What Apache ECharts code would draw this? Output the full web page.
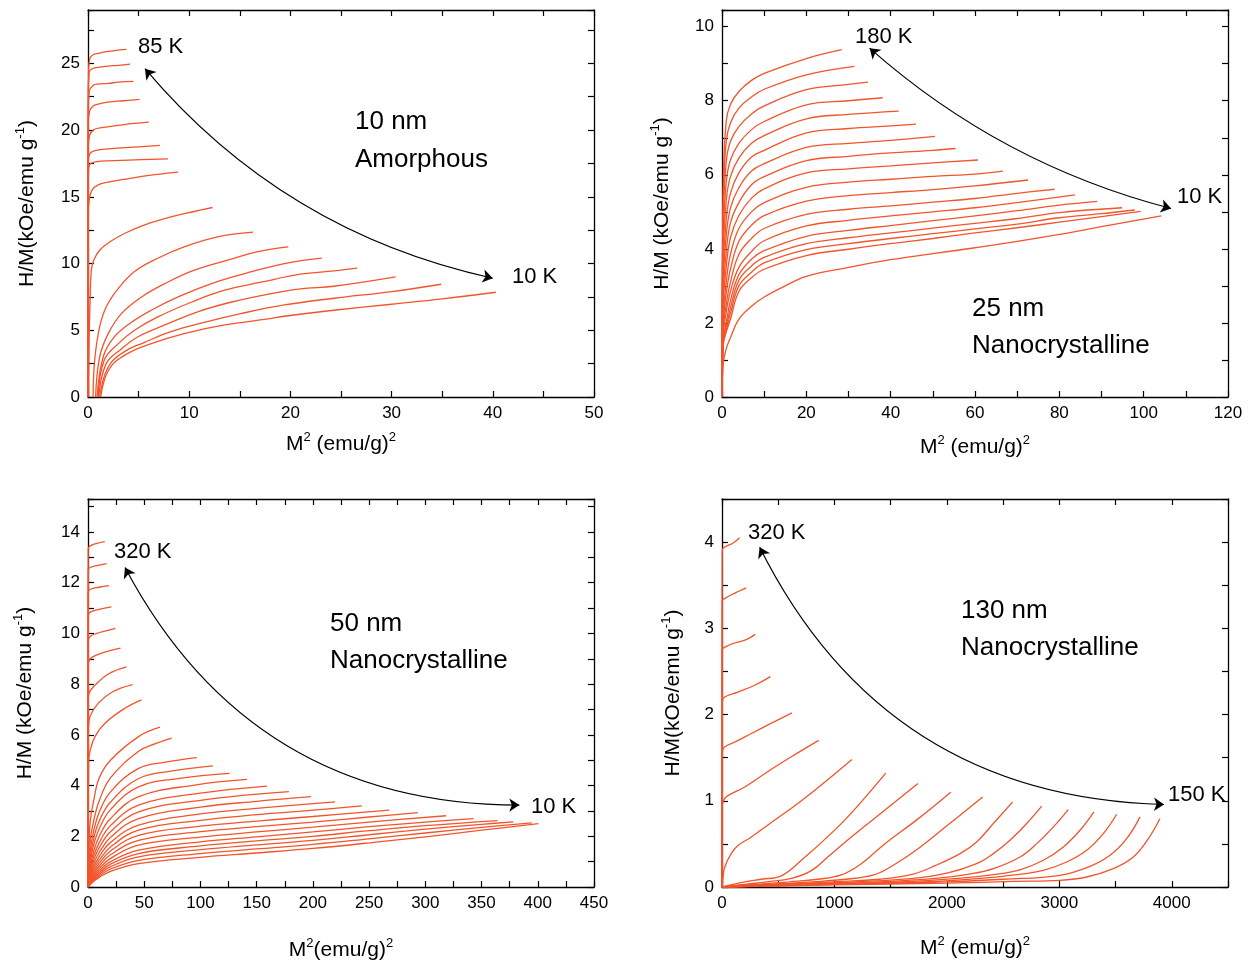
<!DOCTYPE html>
<html>
<head>
<meta charset="utf-8">
<script src="https://cdn.jsdelivr.net/npm/echarts@6/dist/echarts.min.js"></script>
<style>html,body{margin:0;padding:0;background:#fff}#c{width:1255px;height:962px}</style>
</head>
<body>
<div id="c"></div>
<script>
// ---------------- DATA ----------------
// Panel 1: 10 nm amorphous, 85 K (top) ... 10 K (bottom); points are [M^2, H/M]
const amorphous10 = [
  [[0,0],[0.02,20],[0.06,24.6],[0.2,25.4],[0.5,25.65],[1,25.75],[2,25.9],[3,26.0],[3.8,26.05]],
  [[0,0],[0.03,22.5],[0.1,24.3],[0.4,24.6],[1,24.7],[2,24.8],[3,24.85],[4.15,24.95]],
  [[0,0],[0.03,21.5],[0.12,22.9],[0.5,23.35],[1,23.45],[2,23.5],[3,23.6],[4.5,23.65]],
  [[0,0],[0.03,20.5],[0.15,21.4],[0.5,21.8],[1,21.95],[2,22.1],[3.5,22.2],[5.1,22.3]],
  [[0,0],[0.03,18.8],[0.15,19.6],[0.6,20.05],[1.5,20.2],[3,20.35],[4.5,20.5],[6,20.6]],
  [[0,0],[0.03,17.6],[0.15,18.2],[0.6,18.45],[2,18.6],[4,18.7],[7.1,18.85]],
  [[0,0],[0.03,16.8],[0.15,17.4],[0.6,17.6],[2,17.7],[4,17.75],[7.9,17.85]],
  [[0,0],[0.03,13.5],[0.12,14.8],[0.4,15.5],[1,15.9],[2,16.1],[3.5,16.3],[6,16.6],[8.9,16.85]],
  [[0.05,0],[0.1,4],[0.2,7],[0.33,9.5],[0.6,10.3],[1.15,11],[2.1,11.6],[3.6,12.25],[5.6,12.9],[8.2,13.5],[10.5,13.9],[12.3,14.2]],
  [[0.5,0],[0.66,2.75],[1.15,5.25],[1.8,6.75],[2.96,8.1],[4.6,9.4],[6.9,10.4],[9.5,11.25],[12.8,12],[16.3,12.35]],
  [[0.75,0],[1.15,3],[2,4.75],[3.3,6.25],[5.3,7.5],[7.6,8.5],[10.5,9.5],[13.8,10.25],[16.8,10.9],[19.8,11.25]],
  [[0.9,0],[1.5,3],[2.6,4.5],[4.3,5.6],[6.25,6.5],[8.9,7.5],[12.2,8.5],[15.5,9.25],[19.4,10],[23.1,10.4]],
  [[1.0,0],[1.6,2.75],[3,4],[4.6,5],[6.9,6],[10.2,7.1],[13.5,8],[17.1,8.6],[21,9.2],[24.3,9.45],[26.6,9.65]],
  [[1.05,0],[1.8,2.5],[3.3,3.6],[4.9,4.5],[7.6,5.4],[10.9,6.4],[14.1,7.1],[18.1,7.75],[21,8.1],[24.3,8.3],[30.4,9.0]],
  [[1.15,0],[2,2.25],[3.6,3.4],[5.6,4.1],[8.2,4.9],[11.5,5.6],[15.1,6.25],[19.4,6.9],[24.3,7.4],[30,7.9],[34.9,8.45]],
  [[1.25,0],[2.1,2.1],[3.9,3.25],[6.25,4],[9.5,4.75],[13.5,5.4],[17.8,5.85],[19.4,6.05],[24.3,6.5],[30,6.95],[35,7.35],[40.3,7.85]]
];
// Panel 2: 25 nm nanocrystalline, 180 K ... 10 K
const nano25 = [
  [[0,0],[0.3,5.8],[1,7.45],[2,7.9],[4,8.25],[7,8.55],[10,8.74],[20,9.14],[28.4,9.38]],
  [[0,0],[0.3,5.3],[1,6.9],[2,7.4],[4,7.8],[7,8.1],[10,8.31],[20,8.7],[31.4,8.93]],
  [[0,0],[0.3,4.8],[1,6.35],[2,6.9],[4,7.3],[7,7.64],[10,7.86],[20,8.3],[30,8.44],[34.6,8.5]],
  [[0,0],[0.3,4.3],[1,5.8],[2,6.4],[4,6.85],[7,7.22],[10,7.44],[20,7.89],[30,8.0],[38.1,8.08]],
  [[0,0],[0.3,3.9],[1,5.3],[2,5.95],[4,6.45],[7,6.85],[10,7.06],[20,7.51],[30,7.63],[41.9,7.72]],
  [[0,0],[0.3,3.5],[1,4.8],[2,5.5],[4,6.05],[7,6.48],[10,6.66],[20,7.13],[30,7.25],[40,7.32],[46,7.37]],
  [[0,0],[0.3,3.1],[1,4.35],[2,5.1],[4,5.65],[7,6.1],[10,6.3],[20,6.74],[30,6.85],[40,6.93],[50.5,7.04]],
  [[0,0],[0.3,2.8],[1,3.9],[2,4.7],[4,5.25],[7,5.73],[10,5.95],[20,6.38],[30,6.5],[40,6.59],[50,6.66],[55.4,6.71]],
  [[0,0],[0.3,2.5],[1,3.5],[2,4.3],[4,4.9],[7,5.37],[10,5.62],[20,6.05],[30,6.16],[40,6.24],[50,6.32],[60.7,6.4]],
  [[0,0],[0.3,2.2],[1,3.1],[2,3.85],[4,4.55],[7,5.0],[10,5.25],[20,5.66],[30,5.8],[40,5.88],[50,5.96],[60,6.02],[66.6,6.1]],
  [[0,0],[0.3,2.0],[1,2.8],[2,3.45],[4,4.2],[7,4.64],[10,4.9],[20,5.29],[30,5.44],[40,5.52],[50,5.6],[60,5.7],[72.6,5.86]],
  [[0,0],[0.3,1.8],[1,2.5],[2,3.1],[4,3.85],[7,4.28],[10,4.55],[20,4.93],[30,5.07],[40,5.16],[50,5.26],[60,5.36],[70,5.5],[78.9,5.61]],
  [[0,0],[0.3,1.65],[1,2.3],[2,2.85],[4,3.5],[7,3.93],[10,4.22],[20,4.62],[30,4.77],[40,4.89],[50,5.0],[60,5.11],[70,5.25],[83.7,5.46]],
  [[0,0],[0.3,1.55],[1,2.0],[2,2.6],[4,3.3],[7,3.72],[10,3.95],[20,4.34],[30,4.5],[40,4.63],[50,4.76],[60,4.89],[70,5.03],[80,5.18],[89,5.28]],
  [[0,0],[0.3,1.5],[1,1.9],[2,2.4],[4,3.15],[7,3.54],[10,3.77],[20,4.14],[30,4.3],[40,4.43],[50,4.56],[60,4.69],[70,4.82],[80,4.98],[94.9,5.11]],
  [[0,0],[0.3,1.45],[1,1.8],[2,2.25],[4,3.0],[7,3.37],[10,3.62],[20,3.98],[30,4.14],[40,4.28],[50,4.41],[60,4.54],[70,4.67],[80,4.84],[90,4.95],[97.9,5.05]],
  [[0,0],[0.3,1.4],[1,1.75],[2,2.1],[4,2.85],[7,3.22],[10,3.45],[20,3.82],[30,3.99],[40,4.14],[50,4.28],[60,4.43],[70,4.57],[80,4.72],[90,4.87],[99.3,5.01]],
  [[0,0],[0.3,0.9],[1,1.3],[2,1.6],[4,2.1],[7,2.45],[10,2.7],[15,3.0],[20,3.26],[30,3.5],[40,3.71],[50,3.87],[60,4.03],[70,4.2],[80,4.39],[90,4.6],[104.2,4.89]]
];
// Panel 3: 50 nm nanocrystalline, 320 K ... 10 K
const nano50 = [
  [[0,0],[0.2,13.35],[2,13.45],[8,13.55],[14.9,13.62]],
  [[0,0],[0.2,12.5],[2,12.6],[9,12.68],[16.4,12.75]],
  [[0,0],[0.2,11.62],[2,11.74],[10,11.82],[18.75,11.88]],
  [[0,0],[0.2,10.7],[2,10.84],[10,10.95],[20.8,11.05]],
  [[0,0],[0.2,9.7],[2,9.88],[8,10.0],[16,10.1],[24.4,10.2]],
  [[0,0],[0.3,8.75],[2,9.0],[8,9.15],[18,9.3],[28.9,9.42]],
  [[0,0],[0.3,7.4],[0.9,7.64],[6.2,7.95],[18,8.4],[34.2,8.68]],
  [[0,0],[0.4,6.3],[1.8,6.72],[9.2,7.25],[22,7.7],[39.6,7.98]],
  [[0,0],[0.5,4.9],[2,5.4],[6.2,5.93],[15.1,6.46],[32.9,7.05],[47.6,7.38]],
  [[0,0],[1,1.8],[2,2.6],[5,3.4],[10,4.3],[20,5.0],[45,5.93],[64,6.3]],
  [[0,0],[2,1.8],[5,2.6],[10,3.4],[20,4.3],[45,5.35],[60,5.65],[74.4,5.87]],
  [[0,0],[2,1.4],[5,2.2],[10,2.95],[20,3.75],[45,4.68],[70,4.93],[96.7,5.1]],
  [[0,0],[2,1.15],[5,1.9],[10,2.6],[20,3.35],[45,4.28],[75,4.58],[111,4.78]],
  [[0,0],[2,0.95],[5,1.65],[10,2.3],[20,3.05],[45,3.95],[85,4.3],[125.9,4.48]],
  [[0,0],[2,0.8],[5,1.4],[10,2.0],[20,2.7],[45,3.56],[95,4.02],[141.4,4.24]],
  [[0,0],[2,0.68],[5,1.22],[10,1.75],[20,2.42],[45,3.23],[100,3.7],[159.2,3.98]],
  [[0,0],[2,0.58],[5,1.06],[10,1.55],[20,2.18],[45,2.96],[100,3.42],[178.6,3.76]],
  [[0,0],[2,0.5],[5,0.92],[10,1.36],[20,1.96],[45,2.7],[100,3.15],[150,3.38],[198.3,3.56]],
  [[0,0],[2,0.42],[5,0.8],[10,1.2],[20,1.76],[45,2.44],[100,2.88],[150,3.1],[219.7,3.36]],
  [[0,0],[2,0.36],[5,0.7],[10,1.06],[20,1.58],[45,2.24],[100,2.63],[150,2.85],[200,3.03],[243.4,3.2]],
  [[0,0],[2,0.3],[5,0.6],[10,0.94],[20,1.42],[45,2.04],[100,2.4],[150,2.6],[200,2.78],[268,3.03]],
  [[0,0],[2,0.26],[5,0.52],[10,0.83],[20,1.27],[45,1.84],[100,2.18],[150,2.38],[200,2.56],[250,2.76],[293.3,2.93]],
  [[0,0],[2,0.22],[5,0.45],[10,0.73],[20,1.13],[45,1.65],[100,1.97],[150,2.17],[200,2.36],[250,2.56],[318.5,2.81]],
  [[0,0],[2,0.19],[5,0.39],[10,0.64],[20,1.0],[45,1.45],[100,1.78],[150,1.98],[200,2.17],[250,2.38],[300,2.56],[342.9,2.7]],
  [[0,0],[2,0.16],[5,0.34],[10,0.56],[20,0.9],[45,1.32],[100,1.62],[150,1.82],[200,2.0],[250,2.22],[300,2.42],[364.2,2.62]],
  [[0,0],[2,0.14],[5,0.3],[10,0.5],[20,0.8],[45,1.19],[100,1.47],[150,1.66],[200,1.84],[250,2.06],[300,2.28],[350,2.47],[378.4,2.57]],
  [[0,0],[2,0.12],[5,0.26],[10,0.44],[20,0.71],[45,1.05],[100,1.32],[150,1.5],[200,1.68],[250,1.9],[300,2.13],[350,2.35],[394.7,2.53]],
  [[0,0],[2,0.1],[5,0.22],[10,0.38],[20,0.62],[45,0.92],[100,1.17],[150,1.34],[200,1.52],[250,1.74],[300,1.98],[350,2.24],[400.6,2.5]]
];
// Panel 4: 130 nm nanocrystalline, 320 K ... 150 K
const nano130 = [
  [[0,0],[2,3.88],[9,3.93],[50,3.96],[100,3.99],[157,4.05]],
  [[0,0],[2,3.32],[30,3.35],[83,3.39],[150,3.43],[216,3.47]],
  [[0,0],[2,2.75],[40,2.79],[113,2.83],[216,2.87],[296,2.93]],
  [[0,0],[3,2.15],[20,2.2],[142,2.26],[291,2.34],[430,2.44]],
  [[0,0],[3,1.56],[20,1.62],[113,1.68],[261,1.78],[439,1.9],[622,2.02]],
  [[0,0],[3,0.95],[20,1.02],[53,1.06],[202,1.16],[409,1.34],[617,1.51],[860,1.7]],
  [[0,0],[10,0.12],[24,0.23],[83,0.39],[142,0.48],[261,0.58],[409,0.72],[706,1.0],[1156,1.48]],
  [[0,0],[100,0.03],[200,0.06],[350,0.09],[528,0.13],[706,0.31],[1002,0.66],[1200,0.93],[1456,1.32]],
  [[0,0],[200,0.03],[400,0.06],[617,0.1],[795,0.19],[943,0.35],[1150,0.58],[1447,0.89],[1743,1.2]],
  [[0,0],[300,0.03],[600,0.06],[850,0.09],[1061,0.14],[1239,0.27],[1447,0.5],[1743,0.79],[2034,1.1]],
  [[0,0],[400,0.03],[800,0.06],[1100,0.09],[1350,0.14],[1520,0.25],[1750,0.45],[2000,0.71],[2318,1.045]],
  [[0,0],[500,0.03],[1000,0.06],[1400,0.09],[1700,0.15],[1900,0.25],[2117,0.387],[2265,0.523],[2413,0.736],[2585,0.987]],
  [[0,0],[600,0.03],[1200,0.06],[1700,0.1],[2000,0.16],[2265,0.271],[2413,0.387],[2561,0.542],[2710,0.736],[2843,0.937]],
  [[0,0],[700,0.03],[1400,0.06],[1900,0.1],[2200,0.15],[2413,0.213],[2650,0.348],[2799,0.503],[2947,0.697],[3080,0.898]],
  [[0,0],[800,0.03],[1600,0.06],[2100,0.1],[2450,0.15],[2650,0.2],[2858,0.31],[3036,0.465],[3184,0.658],[3308,0.871]],
  [[0,0],[900,0.03],[1800,0.06],[2300,0.1],[2600,0.14],[2858,0.194],[3065,0.29],[3243,0.426],[3391,0.619],[3510,0.844]],
  [[0,0],[1000,0.03],[2000,0.06],[2500,0.09],[3006,0.136],[3273,0.24],[3451,0.368],[3599,0.561],[3718,0.813]],
  [[0,0],[1000,0.025],[2000,0.045],[2600,0.065],[3006,0.077],[3243,0.116],[3480,0.213],[3658,0.348],[3792,0.561],[3895,0.794]]
];
// Temperature arrows (data coordinates of both tips)
const arrow10 = [[5.63,24.6],[40.0,8.9]];
const arrow25 = [[35.0,9.42],[106.5,5.09]];
const arrow50 = [[32.9,12.6],[383.6,3.23]];
const arrow130 = [[335,3.94],[3931,0.957]];
// Axis ranges / tick steps
const xMax = [50, 120, 450, 4500];
const yMax = [29, 10.45, 15.3, 4.5];
const xStep = [5, 10, 25, 500];       // tick step
const xLabelStep = [10, 20, 50, 1000]; // labelled ticks
const yStep = [2.5, 1, 1, 0.5];
const yLabelStep = [5, 2, 2, 1];
// Labels
const xTitles = ['{a|M}{s|2}{a| (emu/g)}{s|2}', '{a|M}{s|2}{a| (emu/g)}{s|2}', '{a|M}{s|2}{a|(emu/g)}{s|2}', '{a|M}{s|2}{a| (emu/g)}{s|2}'];
const yTitles = ['{a|H/M(kOe/emu g}{s|-1}{a|)}', '{a|H/M (kOe/emu g}{s|-1}{a|)}', '{a|H/M (kOe/emu g}{s|-1}{a|)}', '{a|H/M(kOe/emu g}{s|-1}{a|)}'];
const tempLabels = [['85 K','10 K'], ['180 K','10 K'], ['320 K','10 K'], ['320 K','150 K']];
const sampleLabels = [['10 nm','Amorphous'], ['25 nm','Nanocrystalline'], ['50 nm','Nanocrystalline'], ['130 nm','Nanocrystalline']];

// ---------------- LAYOUT / STYLE ----------------
const FONT = '"Liberation Sans", Arial, Helvetica, sans-serif';
const RED = '#F2542B';
const curvesAll = [amorphous10, nano25, nano50, nano130];
const arrows = [arrow10, arrow25, arrow50, arrow130];
const curveness = [-0.17, -0.12, -0.30, -0.30];
const grids = [
  {left:88, top:10, width:506, height:387},
  {left:722, top:10, width:506, height:387},
  {left:88, top:499, width:506, height:388},
  {left:722, top:499, width:506, height:388}
];
const xGap = [34, 37, 50, 48];
const yGap = [48, 47, 50, 36];
// text positions (pixels): [tempHi, tempLo, sample line1, sample line2]
const textPos = [
  [[138,47],[512,277],[355,122],[355,160]],
  [[855,37],[1177,197],[972,309],[972,346]],
  [[114,552],[531,807],[330,624],[330,661]],
  [[748,533],[1168,795],[961,611],[961,648]]
];

const richName = {
  a: {fontFamily: FONT, fontSize: 21, color: '#000', lineHeight: 26},
  s: {fontFamily: FONT, fontSize: 13, color: '#000', lineHeight: 14, verticalAlign: 'top'}
};
function isMult(v, s) { return Math.abs(v / s - Math.round(v / s)) < 1e-6; }

const xAxis = [], yAxis = [], series = [], graphic = [];
for (let i = 0; i < 4; i++) {
  const tick = {inside: true, length: 6, lineStyle: {color: '#000', width: 1.2}};
  const line = {show: true, onZero: false, lineStyle: {color: '#000', width: 1.3}};
  const xs = xStep[i], xl = xLabelStep[i], xm = xMax[i];
  const ys = yStep[i], yl = yLabelStep[i], ym = yMax[i];
  xAxis.push({
    gridIndex: i, type: 'value', position: 'bottom', min: 0, max: xm, interval: xs,
    axisLine: line, axisTick: tick, splitLine: {show: false},
    axisLabel: {color: '#000', fontFamily: FONT, fontSize: 17, margin: 8,
      formatter: v => (isMult(v, xl) && isMult(v, xs) && (v < xm || isMult(xm, xl))) ? String(v) : ''},
    name: xTitles[i], nameLocation: 'middle', nameGap: xGap[i],
    nameTextStyle: {color: '#000', fontFamily: FONT, fontSize: 21, rich: richName}
  });
  xAxis.push({
    gridIndex: i, type: 'value', position: 'top', min: 0, max: xm, interval: xs,
    axisLine: line, axisTick: tick, splitLine: {show: false}, axisLabel: {show: false}
  });
  yAxis.push({
    gridIndex: i, type: 'value', position: 'left', min: 0, max: ym, interval: ys,
    axisLine: line, axisTick: tick, splitLine: {show: false},
    axisLabel: {color: '#000', fontFamily: FONT, fontSize: 17, margin: 8,
      formatter: v => (isMult(v, yl) && isMult(v, ys)) ? String(v) : ''},
    name: yTitles[i], nameLocation: 'middle', nameGap: yGap[i], nameRotate: 90,
    nameTextStyle: {color: '#000', fontFamily: FONT, fontSize: 21, rich: richName}
  });
  yAxis.push({
    gridIndex: i, type: 'value', position: 'right', min: 0, max: ym, interval: ys,
    axisLine: line, axisTick: tick, splitLine: {show: false}, axisLabel: {show: false}
  });
  curvesAll[i].forEach(c => series.push({
    type: 'line', xAxisIndex: 2 * i, yAxisIndex: 2 * i, data: c,
    symbol: 'none', showSymbol: false, smooth: 0.4,
    lineStyle: {color: RED, width: 1.3}, silent: true, animation: false, z: 2
  }));
  series.push({
    type: 'lines', coordinateSystem: 'cartesian2d', xAxisIndex: 2 * i, yAxisIndex: 2 * i,
    symbol: ['arrow', 'arrow'], symbolSize: 10,
    lineStyle: {color: '#000', width: 1.2, opacity: 1, curveness: curveness[i]},
    data: [{coords: arrows[i]}], silent: true, animation: false, z: 3
  });
  const tp = textPos[i];
  const texts = [[tempLabels[i][0], 22], [tempLabels[i][1], 22], [sampleLabels[i][0], 26], [sampleLabels[i][1], 26]];
  texts.forEach((t, k) => graphic.push({
    type: 'text', x: tp[k][0], y: tp[k][1], silent: true, z: 10,
    style: {text: t[0], fill: '#000', font: t[1] + 'px ' + FONT, verticalAlign: 'middle', align: 'left'}
  }));
}

const chart = echarts.init(document.getElementById('c'), null, {renderer: 'canvas'});
chart.setOption({
  animation: false,
  backgroundColor: '#fff',
  grid: grids,
  xAxis: xAxis,
  yAxis: yAxis,
  series: series,
  graphic: graphic
});
</script>
</body>
</html>
